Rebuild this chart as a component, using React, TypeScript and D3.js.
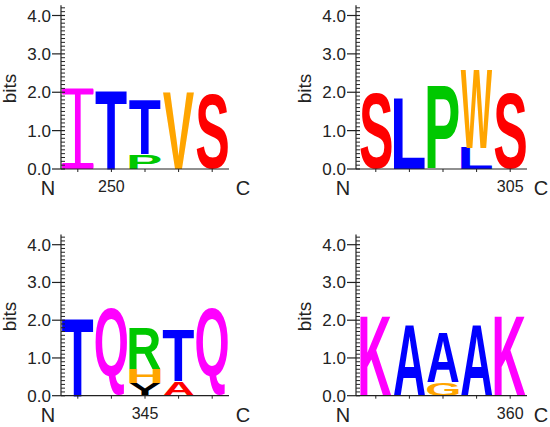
import React from 'react';
import * as d3 from 'd3';

// sequence positions per panel (tick labels drawn at multiples of 5)
const positions1 = [249, 250, 251, 252, 253];
const positions2 = [301, 302, 303, 304, 305];
const positions3 = [343, 344, 345, 346, 347];
const positions4 = [356, 357, 358, 359, 360];

// letters in each column, bottom to top, and their heights in bits
const letters1 = [['I'], ['T'], ['P', 'T'], ['V'], ['S']];
const bits1 = [[2.1], [2.07], [0.38, 1.43], [2.0], [1.95]];

const letters2 = [['S'], ['L'], ['P'], ['L', 'W'], ['S']];
const bits2 = [[1.98], [1.83], [2.18], [0.55, 2.05], [1.98]];

const letters3 = [['T'], ['Q'], ['Y', 'H', 'R'], ['A', 'T'], ['Q']];
const bits3 = [[2.08], [2.32], [0.34, 0.38, 1.07], [0.38, 1.39], [2.32]];

const letters4 = [['K'], ['A'], ['G', 'A'], ['A'], ['K']];
const bits4 = [[2.13], [1.88], [0.35, 1.31], [1.88], [2.13]];

const yTicks = [0, 1, 2, 3, 4];

const MAGENTA = '#ff00ff';
const BLUE = '#0000ff';
const GREEN = '#00c800';
const ORANGE = '#ffa500';
const RED = '#ff0000';
const BLACK = '#000000';

const letterColors: Record<string, string> = {
  I: MAGENTA, T: BLUE, P: GREEN, V: ORANGE, S: RED, L: BLUE, W: ORANGE,
  Q: MAGENTA, R: GREEN, H: ORANGE, Y: BLACK, A: RED, K: MAGENTA, G: ORANGE,
};

const GLYPH_SIZE = 100;
const GLYPH_FONT = "'Liberation Sans', Arial, sans-serif";
const LABEL_FONT = "'Liberation Sans', Arial, sans-serif";

let ctx: CanvasRenderingContext2D | null = null;
const cache: Record<string, { l: number; r: number; a: number; d: number }> = {};
function measure(ch: string) {
  if (cache[ch]) return cache[ch];
  if (!ctx) ctx = document.createElement('canvas').getContext('2d');
  ctx!.font = `bold ${GLYPH_SIZE}px ${GLYPH_FONT}`;
  const m = ctx!.measureText(ch);
  const res = { l: m.actualBoundingBoxLeft, r: m.actualBoundingBoxRight, a: m.actualBoundingBoxAscent, d: m.actualBoundingBoxDescent };
  cache[ch] = res;
  return res;
}

// the logo's "I" has full-width bars, so it is drawn in a unit box
const I_PATH = 'M0.02,0 H0.98 Q1,0 1,0.035 V0.04 Q1,0.075 0.98,0.075 H0.59 V0.925 H0.98 Q1,0.925 1,0.96 V0.965 Q1,1 0.98,1 H0.02 Q0,1 0,0.965 V0.96 Q0,0.925 0.02,0.925 H0.41 V0.075 H0.02 Q0,0.075 0,0.04 V0.035 Q0,0 0.02,0 Z';

const Glyph = ({ ch, x, w, yTop, yBot, color }: any) => {
  if (ch === 'I') {
    return <path d={I_PATH} transform={`translate(${x},${yTop}) scale(${w},${yBot - yTop})`} fill={color} />;
  }
  const m = measure(ch);
  const sx = w / (m.l + m.r);
  const sy = (yBot - yTop) / (m.a + m.d);
  return (
    <text
      transform={`translate(${x + m.l * sx},${yBot - m.d * sy}) scale(${sx},${sy})`}
      fontFamily={GLYPH_FONT}
      fontWeight="bold"
      fontSize={GLYPH_SIZE}
      fill={color}
    >
      {ch}
    </text>
  );
};

const Panel = ({ axisX, bandStart, bandEnd, yBottom, yTop, positions, letters, bits, overrides = {} }: any) => {
  const y = d3.scaleLinear().domain([0, 4]).range([yBottom, yTop]);
  const x = d3.scaleBand<number>().domain(positions).range([bandStart, bandEnd]).paddingInner(0.06).paddingOuter(0.03);
  const minor = d3.range(1, 43).map((d) => d / 10).filter((d) => Math.round(d * 10) % 10 !== 0);
  const ink = '#222';
  const colors = { ...letterColors, ...overrides };

  return (
    <g>
      {positions.map((p: number, i: number) => {
        let base = 0;
        return letters[i].map((ch: string, j: number) => {
          const b0 = base;
          base += bits[i][j];
          return (
            <Glyph key={`${p}-${j}`} ch={ch} x={x(p)!} w={x.bandwidth()} yTop={y(base)} yBot={y(b0)} color={colors[ch]} />
          );
        });
      })}
      {/* y axis */}
      <line x1={axisX} x2={axisX} y1={yBottom} y2={y(4.27)} stroke={ink} strokeWidth={1.2} />
      {minor.map((t) => (
        <line key={t} x1={axisX} x2={axisX + 4} y1={y(t)} y2={y(t)} stroke={ink} strokeWidth={1} />
      ))}
      {yTicks.map((t) => (
        <g key={t}>
          <line x1={axisX - 9} x2={axisX + 4} y1={y(t)} y2={y(t)} stroke={ink} strokeWidth={1.2} />
          <text x={axisX - 10} y={y(t) + 6} textAnchor="end" fontFamily={LABEL_FONT} fontSize={17} fill={ink}>
            {t.toFixed(1)}
          </text>
        </g>
      ))}
      <text
        transform={`translate(${axisX - 45},${y(2.1)}) rotate(-90)`}
        textAnchor="middle"
        fontFamily={LABEL_FONT}
        fontSize={19}
        fill={ink}
      >
        bits
      </text>
      {/* x axis */}
      <line x1={axisX} x2={bandEnd} y1={yBottom} y2={yBottom} stroke={ink} strokeWidth={1.2} />
      {positions.map((p: number) => (
        <line key={p} x1={x(p)! + x.bandwidth() / 2} x2={x(p)! + x.bandwidth() / 2} y1={yBottom} y2={yBottom + 3} stroke={ink} />
      ))}
      {positions.filter((p: number) => p % 5 === 0).map((p: number) => (
        <text key={p} x={x(p)! + x.bandwidth() / 2} y={yBottom + 23} textAnchor="middle" fontFamily={LABEL_FONT} fontSize={16} fill={ink}>
          {p}
        </text>
      ))}
      <text x={axisX - 13} y={yBottom + 26} textAnchor="middle" fontFamily={LABEL_FONT} fontSize={20} fill={ink}>N</text>
      <text x={bandEnd + 14} y={yBottom + 26} textAnchor="middle" fontFamily={LABEL_FONT} fontSize={20} fill={ink}>C</text>
    </g>
  );
};

export default function App() {
  return (
    <svg width={550} height={427} style={{ position: 'absolute', left: 0, top: 0, background: '#fff' }}>
      <Panel axisX={61} bandStart={61} bandEnd={229} yBottom={169} yTop={15.5} positions={positions1} letters={letters1} bits={bits1} />
      <Panel axisX={356} bandStart={359} bandEnd={527} yBottom={169} yTop={15.5} positions={positions2} letters={letters2} bits={bits2} />
      <Panel axisX={61} bandStart={61} bandEnd={229} yBottom={395.7} yTop={244.7} positions={positions3} letters={letters3} bits={bits3} />
      <Panel axisX={356} bandStart={359} bandEnd={527} yBottom={395.7} yTop={244.7} positions={positions4} letters={letters4} bits={bits4} overrides={{ A: BLUE }} />
    </svg>
  );
}
